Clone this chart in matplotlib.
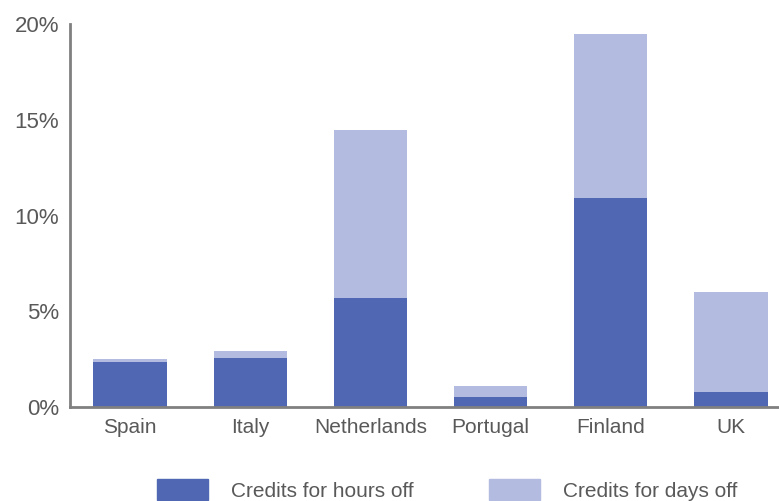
import matplotlib
matplotlib.use("Agg")
import matplotlib.pyplot as plt
from matplotlib.patches import Patch

categories = ["Spain", "Italy", "Netherlands", "Portugal", "Finland", "UK"]
hours_off = [2.35, 2.55, 5.7, 0.5, 10.9, 0.8]
days_off = [0.15, 0.35, 8.75, 0.6, 8.6, 5.2]
yticks = [0, 5, 10, 15, 20]
ytick_labels = ["0%", "5%", "10%", "15%", "20%"]
series_names = ["Credits for hours off", "Credits for days off"]

dark = "#5068B3"
light = "#B3BCE0"
grey = "#808080"
text_col = "#595959"

plt.rcParams["font.family"] = ["Liberation Sans", "DejaVu Sans"]

fig = plt.figure(figsize=(7.79, 5.01), dpi=100)
ax = fig.add_axes([70 / 779, 1 - 407 / 501, 1 - 70 / 779, (407 - 24) / 501])

x = range(len(categories))
ax.bar(x, hours_off, width=0.61, color=dark, label=series_names[0])
ax.bar(x, days_off, bottom=hours_off, width=0.61, color=light, label=series_names[1])

ax.set_xlim(-0.5, 5.4)
ax.set_ylim(0, 20)
ax.set_yticks(yticks)
ax.set_yticklabels(ytick_labels)
ax.set_xticks(list(x))
ax.set_xticklabels(categories)
ax.tick_params(axis="both", length=0, colors=text_col)
ax.tick_params(axis="x", labelsize=15, pad=8)
ax.tick_params(axis="y", labelsize=16, pad=8)
for s in ["top", "right"]:
    ax.spines[s].set_visible(False)
for s in ["left", "bottom"]:
    ax.spines[s].set_color(grey)
    ax.spines[s].set_linewidth(2)

handles = [Patch(color=dark), Patch(color=light)]
leg = fig.legend(handles, series_names, loc="center left", ncol=2,
                 bbox_to_anchor=(157 / 779, 1 - 490 / 501), frameon=False,
                 borderpad=0, borderaxespad=0,
                 fontsize=15, handlelength=2.45, handleheight=1.15,
                 columnspacing=3.6, handletextpad=1.1, labelcolor=text_col)

fig.savefig("out.png", dpi=100)
